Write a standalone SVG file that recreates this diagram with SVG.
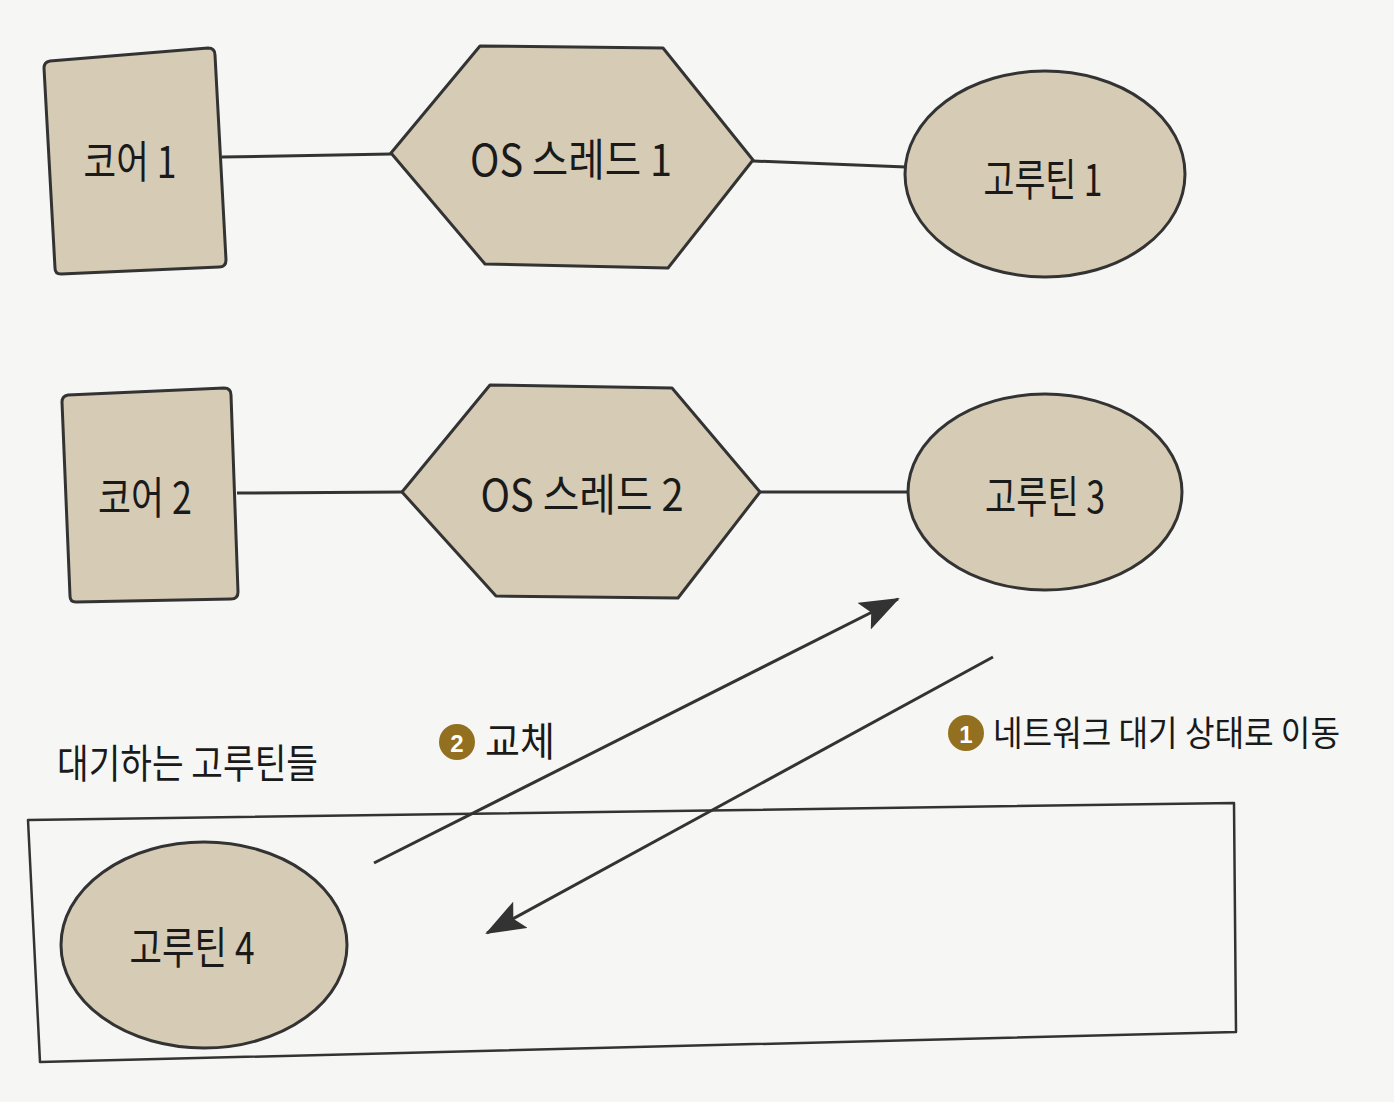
<svg xmlns="http://www.w3.org/2000/svg" width="1394" height="1102" viewBox="0 0 1394 1102">
<style>
.node{fill:#d6cbb5;stroke:#333;stroke-width:3;stroke-linejoin:round}
.lbl{font-family:"Noto Sans CJK KR","Noto Sans",sans-serif;font-size:44px;fill:#1a1a1a;text-anchor:middle;dominant-baseline:central}
.txt{font-family:"Noto Sans CJK KR","Noto Sans",sans-serif;font-size:40px;fill:#1a1a1a}
.conn{stroke:#333;stroke-width:3;fill:none}
.badge{fill:#92701f}
.bnum{font-family:"Liberation Sans",sans-serif;font-weight:bold;font-size:24px;fill:#fff;text-anchor:middle;dominant-baseline:central}
</style>
<defs>
<marker id="arr" viewBox="0 0 40 30" refX="38" refY="15" markerWidth="40" markerHeight="30" markerUnits="userSpaceOnUse" orient="auto">
<path d="M0,0 L40,15 L0,30 L8,15 z" fill="#333"/>
</marker>
</defs>
<rect width="1394" height="1102" fill="#f6f6f4"/>
<g id="connectors">
<line class="conn" x1="222" y1="157" x2="391" y2="154"/>
<line class="conn" x1="753" y1="161" x2="906" y2="167"/>
<line class="conn" x1="237" y1="493" x2="402" y2="492"/>
<line class="conn" x1="760" y1="492" x2="908" y2="492"/>
<line class="conn" x1="374" y1="863" x2="898" y2="599" marker-end="url(#arr)"/>
<line class="conn" x1="993" y1="657" x2="487" y2="933" marker-end="url(#arr)"/>
</g>
<g id="waiting-box">
<path d="M28,820 L1234,803 L1236,1032 L40,1062 Z" fill="none" stroke="#333" stroke-width="2.5" stroke-linejoin="round"/>
</g>
<g id="core1">
<path class="node" d="M50,61 L208,48 Q215,48 215,55 L226,260 Q226,267 219,267 L61,274 Q55,274 55,268 L44,68 Q44,62 50,61 Z"/>
<text class="lbl" x="130" y="159" textLength="93" lengthAdjust="spacingAndGlyphs">코어 1</text>
</g>
<g id="thread1">
<polygon class="node" points="391,153 480,46 663,48 753,160 668,268 485,264"/>
<text class="lbl" x="571" y="157" textLength="202" lengthAdjust="spacingAndGlyphs">OS 스레드 1</text>
</g>
<g id="goroutine1">
<ellipse class="node" cx="1045" cy="174" rx="140" ry="103"/>
<text class="lbl" x="1043" y="177" textLength="119" lengthAdjust="spacingAndGlyphs">고루틴 1</text>
</g>
<g id="core2">
<path class="node" d="M68,395 L224,388 Q231,388 231,395 L238,592 Q238,599 231,599 L76,602 Q70,602 70,596 L62,402 Q62,396 68,395 Z"/>
<text class="lbl" x="145" y="495" textLength="94" lengthAdjust="spacingAndGlyphs">코어 2</text>
</g>
<g id="thread2">
<polygon class="node" points="402,492 490,385 672,388 760,492 678,598 496,596"/>
<text class="lbl" x="582" y="492" textLength="203" lengthAdjust="spacingAndGlyphs">OS 스레드 2</text>
</g>
<g id="goroutine3">
<ellipse class="node" cx="1045" cy="492" rx="137" ry="98"/>
<text class="lbl" x="1045" y="494" textLength="120" lengthAdjust="spacingAndGlyphs">고루틴 3</text>
</g>
<g id="goroutine4">
<ellipse class="node" cx="204" cy="945" rx="143" ry="103"/>
<text class="lbl" x="192" y="945" textLength="125" lengthAdjust="spacingAndGlyphs">고루틴 4</text>
</g>
<g id="label-swap">
<circle class="badge" cx="457" cy="742" r="18"/>
<text class="bnum" x="457" y="743">2</text>
<text class="txt" x="485" y="756" textLength="70" lengthAdjust="spacingAndGlyphs">교체</text>
</g>
<g id="label-move">
<circle class="badge" cx="966" cy="733" r="18"/>
<text class="bnum" x="966" y="734">1</text>
<text class="txt" x="993" y="746" style="font-size:35px" textLength="347" lengthAdjust="spacingAndGlyphs">네트워크 대기 상태로 이동</text>
</g>
<g id="label-waiting">
<text class="txt" x="57" y="778" textLength="261" lengthAdjust="spacingAndGlyphs">대기하는 고루틴들</text>
</g>
</svg>
